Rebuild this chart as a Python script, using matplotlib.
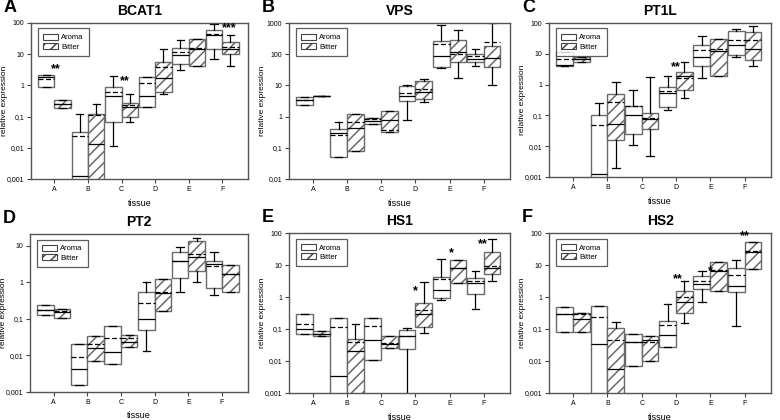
import matplotlib
matplotlib.use('Agg')
import matplotlib.pyplot as plt
from matplotlib.patches import Patch
from matplotlib.ticker import FixedLocator, NullLocator

plt.rcParams['font.family'] = ['Liberation Sans', 'DejaVu Sans']
plt.rcParams['hatch.linewidth'] = 1.1

tissues = ['A', 'B', 'C', 'D', 'E', 'F']

# per tissue: (whisker low, q1, median, mean, q3, whisker high); None = no whisker
BCAT1_AROMA = [(None, 0.92, 1.85, 1.55, 2.1, None),
               (None, 0.0005, 0.00125, 0.024, 0.031, 0.12),
               (0.0115, 0.066, 0.45, 0.6, 0.87, 2.0),
               (None, 0.21, 0.45, 1.2, 1.9, None),
               (3.2, 4.8, 9.7, 11.5, 16, 28),
               (7.2, 14.5, 40, 43, 60, 93)]
BCAT1_BITTER = [(None, 0.195, 0.25, 0.26, 0.335, None),
                (None, 0.0005, 0.013, 0.11, 0.117, 0.25),
                (0.067, 0.1, 0.2, 0.235, 0.28, 0.55),
                (0.53, 0.63, 1.75, 4.0, 5.7, 14.5),
                (None, 4.3, 14.5, 15.5, 30, None),
                (4.1, 10.4, 14.5, 16.5, 24, 42)]

VPS_AROMA = [(None, 2.4, 3.5, 3.3, 4.3, None),
             (None, 0.051, 0.3, 0.26, 0.41, 0.66),
             (None, 0.58, 0.72, 0.83, 0.93, None),
             (0.75, 3.2, 4.5, 5.8, 9.8, 10.5),
             (36, 38, 88, 210, 260, 880),
             (42, 57, 72, 85, 100, 145)]
VPS_BITTER = [(None, 4.6, 4.6, 4.6, 4.6, None),
              (None, 0.077, 0.43, 0.65, 1.2, None),
              (None, 0.32, 0.8, 0.37, 1.5, None),
              (2.9, 3.8, 6.0, 7.5, 14.3, 16),
              (17, 56, 120, 100, 290, 600),
              (10, 40, 75, 240, 185, 1000)]

PT1L_AROMA = [(None, 4.0, 4.3, 6.6, 11.5, None),
              (None, 0.0005, 0.00125, 0.05, 0.103, 0.25),
              (0.0112, 0.025, 0.1, 0.2, 0.2, 0.68),
              (0.15, 0.19, 0.53, 0.6, 0.83, 1.87),
              (1.7, 4.1, 8.1, 13.5, 19.2, 38),
              (7.7, 9.1, 19, 28, 56, 63)]
PT1L_BITTER = [(None, 5.6, 6.9, 6.9, 8.1, None),
               (0.002, 0.0155, 0.052, 0.27, 0.48, 1.2),
               (0.0049, 0.037, 0.076, 0.08, 0.12, 1.8),
               (0.37, 0.65, 1.9, 1.6, 2.6, 5.5),
               (None, 1.9, 12.5, 13.8, 30, None),
               (3.9, 6.3, 14, 28, 50, 78)]

PT2_AROMA = [(None, 0.126, 0.175, 0.175, 0.24, None),
             (None, 0.0016, 0.0042, 0.0088, 0.0206, None),
             (None, 0.006, 0.0121, 0.0303, 0.063, None),
             (0.0129, 0.05, 0.1, 0.28, 0.55, 1.0),
             (0.53, 1.32, 3.9, 3.95, 6.9, 9.3),
             (0.44, 0.7, 3.2, 2.8, 3.8, 6.9)]
PT2_BITTER = [(None, 0.109, 0.15, 0.165, 0.19, None),
              (None, 0.0071, 0.016, 0.02, 0.0344, None),
              (None, 0.0166, 0.024, 0.03, 0.0365, None),
              (None, 0.163, 0.5, 0.55, 1.23, None),
              (1.0, 2.0, 5.0, 6.0, 13.9, 16),
              (None, 0.55, 1.7, 1.7, 2.9, None)]

HS1_AROMA = [(None, 0.068, 0.1, 0.147, 0.287, None),
             (None, 0.0005, 0.0034, 0.112, 0.226, None),
             (None, 0.0106, 0.045, 0.12, 0.215, None),
             (0.0003, 0.023, 0.06, 0.062, 0.092, 0.104),
             (0.81, 0.91, 1.65, 3.7, 4.2, 15.7),
             (0.42, 1.2, 2.8, 3.1, 3.85, 6.6)]
HS1_BITTER = [(None, 0.06, 0.07, 0.072, 0.088, None),
              (None, 0.0005, 0.0208, 0.04, 0.05, 0.139),
              (None, 0.0246, 0.033, 0.037, 0.06, None),
              (0.073, 0.117, 0.3, 0.38, 0.667, 2.9),
              (None, 2.8, 7.9, 8.3, 13.9, None),
              (3.2, 5.3, 7.9, 9.0, 24.7, 65)]

HS2_AROMA = [(None, 0.078, 0.287, 0.29, 0.476, None),
             (None, 0.0005, 0.035, 0.232, 0.53, None),
             (None, 0.0068, 0.039, 0.04, 0.07, None),
             (None, 0.0275, 0.065, 0.133, 0.177, 0.59),
             (0.72, 1.8, 2.6, 3.2, 4.6, 6.7),
             (0.12, 1.48, 2.2, 4.7, 8.0, 14.6)]
HS2_BITTER = [(None, 0.078, 0.21, 0.29, 0.325, None),
              (None, 0.0005, 0.0058, 0.045, 0.11, 0.17),
              (None, 0.01, 0.045, 0.040, 0.062, None),
              (0.15, 0.32, 0.72, 0.98, 1.53, 3.2),
              (None, 1.53, 6.3, 6.8, 12.3, None),
              (None, 7.6, 26, 28, 54, None)]

# significance marks: (x position, y value, text)
BCAT1_STARS = [(0.05, 3.4, '**'), (2.1, 1.4, '**'), (5.2, 69, '***')]
PT1L_STARS = [(3.0, 3.8, '**')]
HS1_STARS = [(3.0, 1.5, '*'), (4.05, 24, '*'), (4.97, 45, '**')]
HS2_STARS = [(3.05, 3.7, '**'), (4.0, 6.5, '*'), (5.0, 80, '**')]

panels = [
    ('A', 'BCAT1', BCAT1_AROMA, BCAT1_BITTER, BCAT1_STARS, (0.001, 100)),
    ('B', 'VPS', VPS_AROMA, VPS_BITTER, [], (0.01, 1000)),
    ('C', 'PT1L', PT1L_AROMA, PT1L_BITTER, PT1L_STARS, (0.001, 100)),
    ('D', 'PT2', PT2_AROMA, PT2_BITTER, [], (0.001, 21)),
    ('E', 'HS1', HS1_AROMA, HS1_BITTER, HS1_STARS, (0.001, 100)),
    ('F', 'HS2', HS2_AROMA, HS2_BITTER, HS2_STARS, (0.001, 100)),
]

# axes rectangles in pixels: left, top, width, height
rects = [(31, 23, 217, 156), (289, 23, 221, 156), (549, 23, 222, 154),
         (30, 234, 218, 158), (289, 233, 221, 160), (549, 233, 222, 160)]

W, H = 780, 420
fig = plt.figure(figsize=(W / 100, H / 100), dpi=100)

edge = '#6a6a6a'
w = 0.49


def make_stats(rows):
    out = []
    for lo, q1, med, mean, q3, hi in rows:
        out.append(dict(whislo=q1 if lo is None else lo, q1=q1, med=med, mean=mean,
                        q3=q3, whishi=q3 if hi is None else hi, fliers=[]))
    return out


def fmt(v):
    s = ('%g' % v) if v >= 1 else ('%.3f' % v).rstrip('0')
    return s.replace('.', ',')


for (letter, title, aroma, bitter, stars, ylim), (l, t, rw, rh) in zip(panels, rects):
    ax = fig.add_axes([l / W, 1 - (t + rh) / H, rw / W, rh / H])
    ax.set_yscale('log')
    pos = list(range(len(tissues)))
    for rows, shift, hatch in [(aroma, -w / 2, None), (bitter, w / 2, '///')]:
        bp = ax.bxp(make_stats(rows), positions=[p + shift for p in pos], widths=w,
                    patch_artist=True, showmeans=True, meanline=True, showfliers=False,
                    capwidths=w * 0.45,
                    boxprops=dict(facecolor='white', edgecolor=edge, linewidth=1.0),
                    medianprops=dict(color='black', linewidth=0.9),
                    meanprops=dict(color='black', linewidth=0.9, linestyle=(0, (4, 2))),
                    whiskerprops=dict(color='black', linewidth=0.9),
                    capprops=dict(color='black', linewidth=0.9))
        if hatch:
            for b in bp['boxes']:
                b.set_hatch(hatch)
    for x, y, s in stars:
        ax.text(x, y, s, ha='center', va='center', fontsize=9, fontweight='bold')

    ax.set_xlim(-0.7, 5.77)
    ax.set_ylim(*ylim)
    ax.set_xticks(pos)
    ax.set_xticklabels(tissues, fontsize=5)
    yt = [v for v in [0.001, 0.01, 0.1, 1, 10, 100, 1000] if ylim[0] <= v <= ylim[1] * 1.001]
    ax.yaxis.set_major_locator(FixedLocator(yt))
    ax.yaxis.set_minor_locator(NullLocator())
    ax.set_yticklabels([fmt(v) for v in yt], fontsize=5)
    ax.tick_params(direction='out', length=3, width=0.8, color='#444444', pad=2)
    for sp in ax.spines.values():
        sp.set_color('#555555')
        sp.set_linewidth(1.0)
    ax.set_xlabel('tissue', fontsize=6.5, labelpad=4)
    ax.set_ylabel('relative expression', fontsize=6)
    ax.yaxis.set_label_coords(-23 / rw, 0.5)
    ax.set_title(title, fontsize=10, fontweight='bold', pad=6)
    fig.text((l - 27) / W, 1 - (t - 16) / H, letter, fontsize=13, fontweight='bold',
             ha='left', va='center')

    handles = [Patch(facecolor='white', edgecolor='#444444', linewidth=0.8),
               Patch(facecolor='white', edgecolor='#444444', linewidth=0.8, hatch='///')]
    leg = ax.legend(handles, ['Aroma', 'Bitter'], loc='upper left',
                    bbox_to_anchor=(0.03, 0.965), fontsize=5.5, frameon=True,
                    fancybox=False, edgecolor='#333333', handlelength=2.0,
                    handleheight=0.8, borderpad=0.7, labelspacing=0.25,
                    handletextpad=0.4, borderaxespad=0.0)
    leg.get_frame().set_linewidth(0.9)

fig.savefig('out.png', dpi=100)
